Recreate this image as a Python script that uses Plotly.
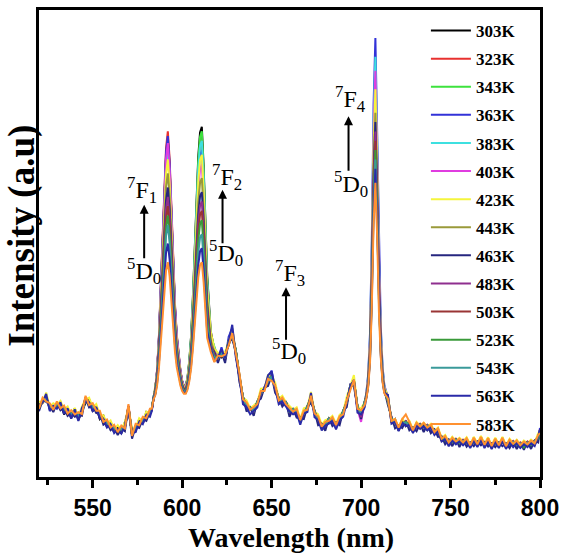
import plotly.graph_objects as go

WAVELENGTH = [
    520, 522, 524, 526, 528, 530, 532, 534, 536, 538, 540, 542, 544, 546, 548, 550,
    552, 554, 556, 558, 560, 562, 564, 566, 568, 570, 572, 574, 576, 578, 580, 582,
    583, 584, 585, 586, 587, 588, 589, 590, 591, 592, 593, 594, 595, 596, 597, 598,
    599, 600, 601, 602, 603, 604, 605, 606, 607, 608, 609, 610, 611, 612, 613, 614,
    616, 618, 620, 622, 624, 626, 628, 630, 632, 634, 636, 638, 640, 642, 644, 646,
    648, 650, 652, 654, 656, 658, 660, 662, 664, 666, 668, 670, 672, 674, 676, 678,
    680, 682, 684, 686, 688, 690, 692, 694, 696, 698, 700, 702,
    703, 704, 705, 706, 707, 708, 709, 710, 711, 712, 713,
    715, 717, 719, 721, 723, 725, 727, 729, 731, 733, 735, 737, 739, 741, 743, 745,
    747, 749, 751, 753, 755, 757, 759, 761, 763, 765, 767, 769, 771, 773, 775, 777,
    779, 781, 783, 785, 787, 789, 791, 793, 795, 797, 799, 800,
]

TEMPS = ["303K", "323K", "343K", "363K", "383K", "403K", "423K", "443K",
         "463K", "483K", "503K", "523K", "543K", "563K", "583K"]

COLORS = ["#000000", "#e8312f", "#3de23d", "#3232d8", "#3de0e0", "#e03ce0",
          "#f5f53c", "#9a9a3a", "#26267f", "#8f2f8f", "#9a3535", "#3a9a3a",
          "#3a9a9a", "#2a2aa8", "#ff9130"]

I303 = [156,159,172,145,152,152,160,134,145,126,147,122,141,158,167,141,150,124,131,106,119,95,108,93,117,142,99,98,124,114,139,134,
        146,171,188,227,294,395,507,608,686,720,664,563,451,362,300,255,227,205,194,194,213,249,302,384,490,597,685,738,750,667,538,431,
        312,272,262,256,264,282,308,266,216,166,156,144,146,157,181,187,208,212,194,164,166,156,144,142,141,122,138,146,174,136,126,108,114,122,124,111,126,136,164,192,208,146,139,156,
        176,209,280,443,683,800,644,423,293,222,189,
        174,116,124,99,123,109,118,96,116,104,114,101,112,92,104,77,88,70,84,72,82,69,83,64,84,66,86,65,83,62,82,64,84,63,80,67,78,64,76,66,78,68,88,92]
I323 = [152,158,172,147,150,152,155,148,138,137,134,133,142,170,155,152,143,136,119,117,108,106,97,104,106,152,90,108,113,124,128,136,
        144,172,189,230,299,404,520,624,705,740,682,578,462,369,305,259,230,206,195,195,210,244,294,373,474,574,658,709,720,642,518,418,
        298,276,252,268,252,292,306,268,218,168,155,146,144,158,180,188,208,212,192,166,164,158,142,143,140,122,137,148,172,138,124,110,112,122,122,113,124,138,162,192,208,148,137,158,
        177,210,284,452,699,820,659,431,297,224,190,
        165,127,112,110,113,120,108,106,106,114,104,112,102,102,94,87,78,80,74,82,72,80,73,74,74,76,76,75,73,72,72,74,74,72,70,77,68,74,66,76,68,78,84,102]
I343 = [154,160,166,152,147,156,149,147,137,136,140,131,139,166,157,151,148,131,123,114,111,103,102,100,109,147,93,107,116,121,131,139,
        145,171,188,226,292,391,501,600,677,710,655,556,446,358,298,254,226,204,193,193,212,247,299,380,485,589,676,728,740,659,531,427,
        303,280,256,263,257,291,303,271,214,171,151,149,143,161,177,191,206,214,189,169,161,161,139,146,137,126,134,151,171,141,121,113,109,126,119,116,121,141,161,196,206,151,134,161,
        178,213,290,465,724,850,682,444,304,227,192,
        166,124,116,107,116,118,111,103,109,111,106,109,105,99,96,86,80,77,77,79,75,77,76,71,77,73,79,72,76,69,75,71,77,70,73,74,71,71,68,73,71,75,84,99]
I363 = [146,163,174,148,150,153,153,143,141,133,136,127,141,169,156,148,145,134,120,113,107,102,98,101,105,151,90,103,114,119,129,137,
        143,171,189,228,297,399,513,616,696,730,673,570,456,365,303,257,228,206,194,194,209,241,290,365,462,560,641,689,700,624,506,408,
        296,272,250,278,250,300,318,265,210,165,148,145,138,157,176,192,210,228,186,165,158,157,136,142,134,120,133,147,168,137,118,108,106,121,116,111,118,137,157,197,204,146,130,157,
        182,221,308,506,798,940,750,482,324,237,197,
        170,121,114,106,112,116,107,101,106,110,103,107,101,97,93,82,77,74,74,77,71,75,72,69,73,71,75,70,72,67,71,69,73,67,69,72,67,69,65,71,67,73,80,105]
I383 = [151,161,169,151,149,154,151,146,139,134,137,131,140,167,159,149,147,132,122,116,110,105,101,103,107,149,93,105,116,122,131,138,
        145,171,187,225,290,387,495,592,668,700,646,549,441,354,295,252,225,203,192,192,210,244,294,373,474,574,658,709,720,642,518,418,
        300,275,254,266,256,290,304,270,215,170,152,148,141,160,179,190,204,216,190,168,162,159,141,145,137,116,135,150,169,140,122,112,110,125,120,115,122,140,160,194,205,150,135,160,
        180,218,300,488,765,900,720,465,315,233,195,
        165,125,115,108,115,117,110,104,108,112,106,110,104,100,96,85,80,78,76,80,74,78,75,72,76,74,78,73,75,70,74,72,76,70,72,75,70,72,68,74,70,76,85,100]
I403 = [149,164,171,149,151,153,150,144,142,136,139,129,137,169,158,150,145,134,121,116,112,103,99,102,107,153,91,106,114,123,129,137,
        145,171,188,227,293,393,504,604,682,715,660,560,449,360,299,254,227,204,193,193,206,237,282,354,446,537,614,660,670,599,486,395,
        296,274,253,264,254,289,305,269,216,169,153,147,142,159,178,189,205,214,191,167,163,160,140,144,138,125,136,149,170,139,123,111,111,124,121,114,123,139,160,195,203,145,118,158,
        179,215,294,474,740,870,697,452,308,229,193,
        164,126,113,109,114,119,109,105,107,112,105,111,103,101,95,86,79,79,75,81,73,79,74,73,75,75,77,74,74,71,73,73,75,71,71,76,69,73,67,75,69,77,83,101]
I423 = [162,160,181,150,158,154,163,144,151,133,148,129,151,166,170,149,156,132,132,114,121,102,111,101,118,149,103,105,126,120,140,136,
        148,170,186,222,285,378,482,576,649,680,628,534,430,347,290,248,222,202,191,191,208,240,287,361,457,552,632,679,690,616,499,404,
        310,274,266,264,268,290,318,270,228,170,164,147,153,160,189,190,218,216,202,168,174,160,152,144,149,124,147,150,182,140,134,112,122,124,131,114,133,140,172,196,218,150,147,160,
        177,211,286,456,708,830,667,436,300,225,191,
        174,122,124,106,124,116,120,102,118,110,116,108,114,98,106,84,90,76,86,78,84,76,85,70,86,72,88,71,85,68,84,70,86,68,82,73,80,70,78,72,80,74,94,96]
I443 = [150,160,168,150,146,154,151,144,139,134,137,130,139,166,157,149,146,133,121,114,109,103,99,101,107,149,91,105,114,121,129,137,
        145,170,185,219,278,366,464,552,621,650,601,513,415,336,283,243,219,199,189,189,203,232,275,342,429,515,587,630,640,573,467,381,
        292,268,254,264,254,289,304,269,214,169,151,147,141,159,177,189,204,214,189,167,161,159,139,144,137,124,134,149,169,139,121,111,109,124,119,114,121,139,159,194,204,149,134,159,
        175,207,276,434,667,780,629,415,289,219,188,
        163,124,112,106,114,117,109,103,107,111,105,109,103,99,95,80,76,74,74,78,72,76,72,70,74,72,76,71,73,68,72,70,74,68,70,73,68,70,65,72,68,74,82,97]
I463 = [141,165,161,154,139,158,143,148,131,137,129,133,131,170,149,152,137,136,112,117,100,106,90,104,98,152,82,108,105,124,120,140,
        142,169,183,215,270,353,445,528,592,620,574,491,399,326,275,238,215,197,188,188,201,228,268,331,412,493,561,601,610,547,448,367,
        280,268,244,268,244,292,294,271,204,171,140,149,131,162,168,192,195,218,180,169,151,161,129,146,127,126,124,151,159,142,111,113,99,126,109,116,111,142,150,198,194,150,124,161,
        174,205,272,425,650,760,614,406,284,217,187,
        154,127,104,110,105,120,100,106,98,114,96,112,94,102,86,87,70,80,66,82,64,80,65,74,66,76,68,75,65,72,64,74,66,72,62,77,60,74,58,76,60,78,74,102]
I483 = [151,160,171,149,149,156,150,146,139,136,137,131,139,168,157,151,145,134,121,116,109,105,99,103,107,151,91,107,114,123,129,139,
        145,169,182,213,266,345,433,512,574,600,556,477,389,318,270,235,213,195,186,186,199,225,263,323,401,478,543,581,590,530,435,358,
        284,262,253,266,254,291,304,271,214,171,151,149,141,161,177,191,204,216,189,169,161,161,139,146,136,126,134,151,169,141,121,113,109,126,119,116,121,141,159,196,204,151,128,159,
        174,203,268,416,634,740,598,398,280,215,185,
        163,124,114,109,114,119,109,105,107,113,105,111,103,101,95,84,79,79,75,81,73,79,74,73,75,75,77,74,74,71,73,73,75,71,71,76,69,73,67,75,69,77,84,99]
I503 = [148,163,169,151,147,154,153,144,141,134,139,129,141,167,159,149,147,132,123,114,111,103,101,101,109,149,93,105,116,121,131,137,
        144,168,181,210,261,336,420,496,555,580,538,462,378,311,265,231,210,194,185,185,197,222,258,316,390,463,525,562,570,513,422,349,
        280,260,254,265,256,290,306,270,216,170,152,148,142,160,178,190,206,215,191,168,162,160,141,145,138,125,135,150,172,140,122,112,110,125,120,115,122,140,160,195,205,150,135,160,
        173,201,264,407,617,720,583,389,275,213,184,
        162,125,115,108,115,118,110,104,108,112,106,110,104,100,96,85,80,78,76,80,74,78,75,72,76,74,78,73,75,70,74,72,76,70,72,75,70,72,68,74,70,76,84,100]
I523 = [153,161,170,152,150,153,152,146,138,136,138,131,140,168,157,150,146,134,122,115,110,105,100,102,108,150,93,106,116,122,130,139,
        146,168,180,208,256,328,408,480,536,560,520,448,368,304,260,228,208,192,184,184,195,219,254,308,378,449,507,542,550,495,410,339,
        278,258,255,266,255,292,305,272,216,170,153,149,142,161,179,190,205,216,190,168,162,160,140,145,138,126,135,150,170,140,122,112,110,125,120,115,122,140,160,195,205,150,135,160,
        172,200,260,398,601,700,568,381,271,211,183,
        162,124,115,108,115,118,110,104,108,112,106,110,104,100,96,82,78,76,74,80,72,76,73,70,74,72,76,71,73,68,72,70,74,68,70,73,68,70,63,72,68,74,82,96]
I543 = [150,162,168,150,148,156,152,145,140,135,138,130,140,166,158,150,146,133,122,115,110,104,100,102,108,148,92,106,115,122,130,138,
        145,168,179,206,251,320,396,464,517,540,502,434,358,297,255,225,206,190,183,183,192,214,246,297,362,426,480,513,520,470,390,326,
        275,256,254,264,255,290,304,270,215,170,152,148,142,160,178,190,205,215,190,168,162,160,140,145,138,125,135,150,170,140,122,112,110,125,120,115,122,140,160,195,205,150,135,160,
        171,198,256,389,585,680,553,373,267,208,182,
        165,125,115,108,115,117,110,104,108,112,106,110,104,100,96,85,80,78,76,80,74,78,75,72,76,74,78,73,75,70,74,72,76,70,72,75,70,72,68,74,70,76,85,100]
I563 = [153,160,178,141,152,146,160,135,147,125,145,120,148,162,160,141,150,125,125,106,113,94,103,93,110,141,95,96,118,113,133,129,
        141,167,177,201,242,303,371,432,480,500,466,405,337,282,245,218,201,187,180,180,190,210,239,285,345,404,454,483,490,444,371,312,
        276,248,256,274,254,290,326,256,214,156,150,134,142,149,181,189,218,226,190,156,162,152,140,134,138,112,136,139,180,128,122,100,110,114,120,102,122,129,161,194,208,138,134,149,
        170,196,252,380,568,660,538,364,262,206,181,
        176,114,118,98,116,109,112,94,110,104,108,100,106,90,98,76,81,66,78,70,76,68,76,62,78,64,80,62,76,60,76,62,78,60,74,64,72,62,70,64,72,66,88,100]
I583 = [146,170,162,158,144,162,147,153,136,143,134,139,135,174,154,158,142,142,118,123,106,112,96,110,104,156,88,114,111,129,126,146,
        146,166,175,196,232,286,346,400,442,460,430,376,316,268,235,211,196,184,178,178,187,205,232,274,328,382,427,454,460,418,352,298,
        268,246,260,258,262,282,308,264,222,166,160,144,150,156,184,184,210,206,196,164,170,156,148,140,146,122,142,144,174,136,130,108,118,120,128,111,130,134,164,186,208,146,143,154,
        169,193,246,366,544,630,515,352,256,203,179,
        168,120,124,106,124,134,118,100,116,108,116,106,112,96,104,82,88,74,84,76,82,74,83,68,84,70,86,69,83,66,82,68,84,66,80,71,78,68,76,70,78,72,90,94]

SERIES = [I303, I323, I343, I363, I383, I403, I423, I443,
          I463, I483, I503, I523, I543, I563, I583]

TRANSITION_UPPER = ["<sup>7</sup>F<sub>1</sub>", "<sup>7</sup>F<sub>2</sub>",
                    "<sup>7</sup>F<sub>3</sub>", "<sup>7</sup>F<sub>4</sub>"]
TRANSITION_LOWER = "<sup>5</sup>D<sub>0</sub>"

fig = go.Figure()
for name, col, ys in zip(TEMPS, COLORS, SERIES):
    assert len(ys) == len(WAVELENGTH), (name, len(ys))
    fig.add_trace(go.Scatter(x=WAVELENGTH, y=ys, mode="lines", name=name,
                             legendgroup=name,
                             line=dict(color=col, width=2)))

# plot-area pixel geometry helpers (layout only)
X0, X1, Y0, Y1 = 39, 544, 7, 477
def px(x):
    return (x - X0) / (X1 - X0)
def py(y):
    return (Y1 - y) / (Y1 - Y0)

serif = "Liberation Serif, Times New Roman, serif"
ann = []
# (upper label centre, arrow x, arrow top, arrow bottom, lower label centre)
label_layout = [
    ((143, 188), 145, 203, 258, (145, 270)),
    ((228, 175), 224, 188, 243, (227, 252)),
    ((292, 272), 288, 286, 340, (291, 350)),
    ((353, 97), 351, 114, 170, (353, 182)),
]
for txt, (up, ax_x, a_top, a_bot, low) in zip(TRANSITION_UPPER, label_layout):
    ann.append(dict(text=txt, x=px(up[0]), y=py(up[1]), xref="paper", yref="paper",
                    showarrow=False, xanchor="center", yanchor="middle",
                    font=dict(family=serif, size=24, color="black")))
    ann.append(dict(text=TRANSITION_LOWER, x=px(low[0]), y=py(low[1]), xref="paper",
                    yref="paper", showarrow=False, xanchor="center", yanchor="middle",
                    font=dict(family=serif, size=24, color="black")))
    ann.append(dict(text="", x=px(ax_x), y=py(a_top), xref="paper", yref="paper",
                    showarrow=True, ax=0, ay=a_bot - a_top, arrowhead=2, arrowsize=0.9,
                    arrowwidth=2, arrowcolor="black", standoff=0, startstandoff=0))

ann.append(dict(text="<b>Intensity (a.u)</b>", x=px(21), y=py(234), xref="paper",
                yref="paper", showarrow=False, textangle=-90, xanchor="center",
                yanchor="middle", font=dict(family=serif, size=37, color="black")))
ann.append(dict(text="<b>Wavelength (nm)</b>", x=px(293), y=py(538), xref="paper",
                yref="paper", showarrow=False, xanchor="center", yanchor="middle",
                font=dict(family=serif, size=28, color="black")))

fig.update_layout(
    width=566, height=559, autosize=False,
    margin=dict(l=39, r=22, t=7, b=82, pad=0),
    paper_bgcolor="white", plot_bgcolor="white",
    showlegend=True,
    legend=dict(x=px(429), y=py(10), xanchor="left", yanchor="top",
                font=dict(family=serif, size=17, color="black", weight="bold"),
                tracegroupgap=3, itemwidth=40, bgcolor="rgba(0,0,0,0)",
                borderwidth=0),
    annotations=ann,
    xaxis=dict(range=[520, 800], tick0=550, dtick=50, ticks="outside", ticklen=8,
               tickwidth=2.5, tickcolor="black", showline=True, linewidth=3,
               linecolor="black", mirror=True, showgrid=False, zeroline=False,
               ticklabelstandoff=0,
               tickfont=dict(family="Liberation Sans, Arial, sans-serif", size=23,
                             color="black", weight="bold"),
               minor=dict(ticks="outside", ticklen=5, tickwidth=2.5, tickcolor="black",
                          dtick=25, tick0=525, showgrid=False)),
    yaxis=dict(range=[0, 1000], showticklabels=False, ticks="", showline=True,
               linewidth=3, linecolor="black", mirror=True, showgrid=False,
               zeroline=False),
)

fig.write_html("out.html")
